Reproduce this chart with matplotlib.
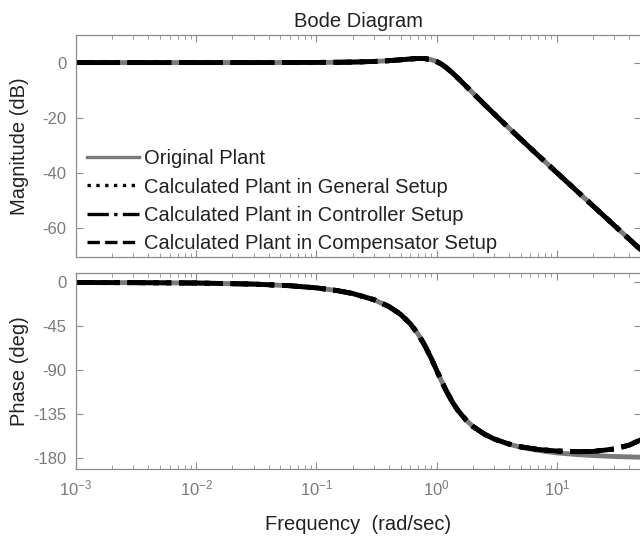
import matplotlib
matplotlib.use("Agg")
import matplotlib.pyplot as plt
from matplotlib.ticker import LogLocator, NullFormatter, FixedLocator

plt.rcParams['font.family'] = ['Liberation Sans', 'DejaVu Sans']
plt.rcParams['mathtext.fontset'] = 'custom'
plt.rcParams['mathtext.rm'] = 'Liberation Sans'
plt.rcParams['axes.unicode_minus'] = False

# Frequency grid (rad/sec)
freq = [0.001, 0.003, 0.01, 0.03, 0.06, 0.1, 0.15, 0.2, 0.3, 0.4, 0.5, 0.6,
        0.7, 0.8, 0.9, 1.0, 1.1, 1.2, 1.35, 1.5, 1.75, 2.0, 2.5, 3.0, 4.0,
        5.0, 7.0, 10.0, 15.0, 20.0, 30.0, 40.0, 50.0]

# Magnitude (dB) - all plants share the same magnitude curve
mag_original = [0.0, 0.0, 0.0, 0.0, 0.02, 0.05, 0.10, 0.18, 0.40, 0.69, 1.01,
                1.30, 1.48, 1.43, 1.06, 0.35, -0.64, -1.82, -3.72, -5.61,
                -8.50, -11.03, -15.23, -18.59, -23.80, -27.77, -33.71, -39.95,
                -47.02, -52.03, -59.08, -64.08, -67.96]
mag_calculated = list(mag_original)

# Phase (deg)
phase_original = [-0.06, -0.17, -0.55, -1.65, -3.31, -5.54, -8.38, -11.3,
                  -17.6, -24.6, -32.6, -42.0, -52.8, -64.9, -77.6, -90.0,
                  -101.3, -110.9, -122.4, -131.0, -140.8, -147.4, -155.4,
                  -160.2, -165.6, -168.7, -172.0, -174.5, -176.3, -177.2,
                  -178.2, -178.6, -178.9]
phase_calculated = [-0.06, -0.17, -0.55, -1.65, -3.31, -5.54, -8.38, -11.3,
                    -17.6, -24.6, -32.6, -42.0, -52.8, -64.9, -77.6, -90.0,
                    -101.3, -110.9, -122.4, -131.0, -140.8, -147.4, -155.4,
                    -160.2, -165.5, -168.3, -171.0, -172.6, -173.3, -173.0,
                    -170.5, -166.5, -161.0]

labels = ["Original Plant",
          "Calculated Plant in General Setup",
          "Calculated Plant in Controller Setup",
          "Calculated Plant in Compensator Setup"]

mag_yticks = [0, -20, -40, -60]
phase_yticks = [0, -45, -90, -135, -180]

fig = plt.figure(figsize=(6.4, 5.36), dpi=100)
ax_mag = fig.add_axes([0.11875, 0.5211, 0.8828, 0.4136])
ax_ph = fig.add_axes([0.11875, 0.125, 0.8828, 0.3662])

spine_col = '#8c8c8c'
tick_col = '#7a7a7a'
text_col = '#222222'
gray_line = '#7a7a7a'
lw = 3.5
fs = 14.5

def draw(ax, y_orig, y_calc):
    ax.plot(freq, y_orig, color=gray_line, lw=lw, ls='-', label=labels[0])
    ax.plot(freq, y_calc, color='black', lw=lw, ls=':', label=labels[1])
    ax.plot(freq, y_calc, color='black', lw=lw, ls='-.', label=labels[2])
    ax.plot(freq, y_calc, color='black', lw=lw, ls='--', label=labels[3])

draw(ax_mag, mag_original, mag_calculated)
draw(ax_ph, phase_original, phase_calculated)

for ax in (ax_mag, ax_ph):
    ax.set_xscale('log')
    ax.set_xlim(1e-3, 50)
    ax.xaxis.set_major_locator(LogLocator(base=10, numticks=10))
    ax.xaxis.set_minor_locator(LogLocator(base=10, subs=range(2, 10), numticks=20))
    ax.xaxis.set_minor_formatter(NullFormatter())
    for s in ax.spines.values():
        s.set_color(spine_col)
        s.set_linewidth(0.9)
    ax.tick_params(which='both', direction='in', top=True, right=True,
                   color=spine_col, labelcolor=tick_col, labelsize=12)
    ax.tick_params(which='major', length=5, pad=7)
    ax.tick_params(which='minor', length=3)

ax_mag.set_ylim(-70.4, 10)
ax_mag.yaxis.set_major_locator(FixedLocator(mag_yticks))
ax_mag.tick_params(axis='x', which='both', labelbottom=False)
ax_mag.set_ylabel("Magnitude (dB)", fontsize=fs, color=text_col)
ax_mag.yaxis.set_label_coords(-0.083, 0.5)
ax_mag.set_title("Bode Diagram", fontsize=fs, color=text_col, pad=6)

ax_ph.set_ylim(-191, 10)
ax_ph.yaxis.set_major_locator(FixedLocator(phase_yticks))
ax_ph.set_ylabel("Phase (deg)", fontsize=fs, color=text_col)
ax_ph.yaxis.set_label_coords(-0.083, 0.5)
ax_ph.set_xlabel("Frequency  (rad/sec)", fontsize=fs, color=text_col, labelpad=12)

leg = ax_mag.legend(loc='lower left', bbox_to_anchor=(0.012, 0.0), frameon=False,
                    fontsize=fs, handlelength=2.6, handletextpad=0.25,
                    labelspacing=0.45, borderaxespad=0.1, borderpad=0.1)
for h in leg.get_lines():
    h.set_linewidth(2.4)
for t in leg.get_texts():
    t.set_color(text_col)

fig.savefig("out.png", dpi=100)
